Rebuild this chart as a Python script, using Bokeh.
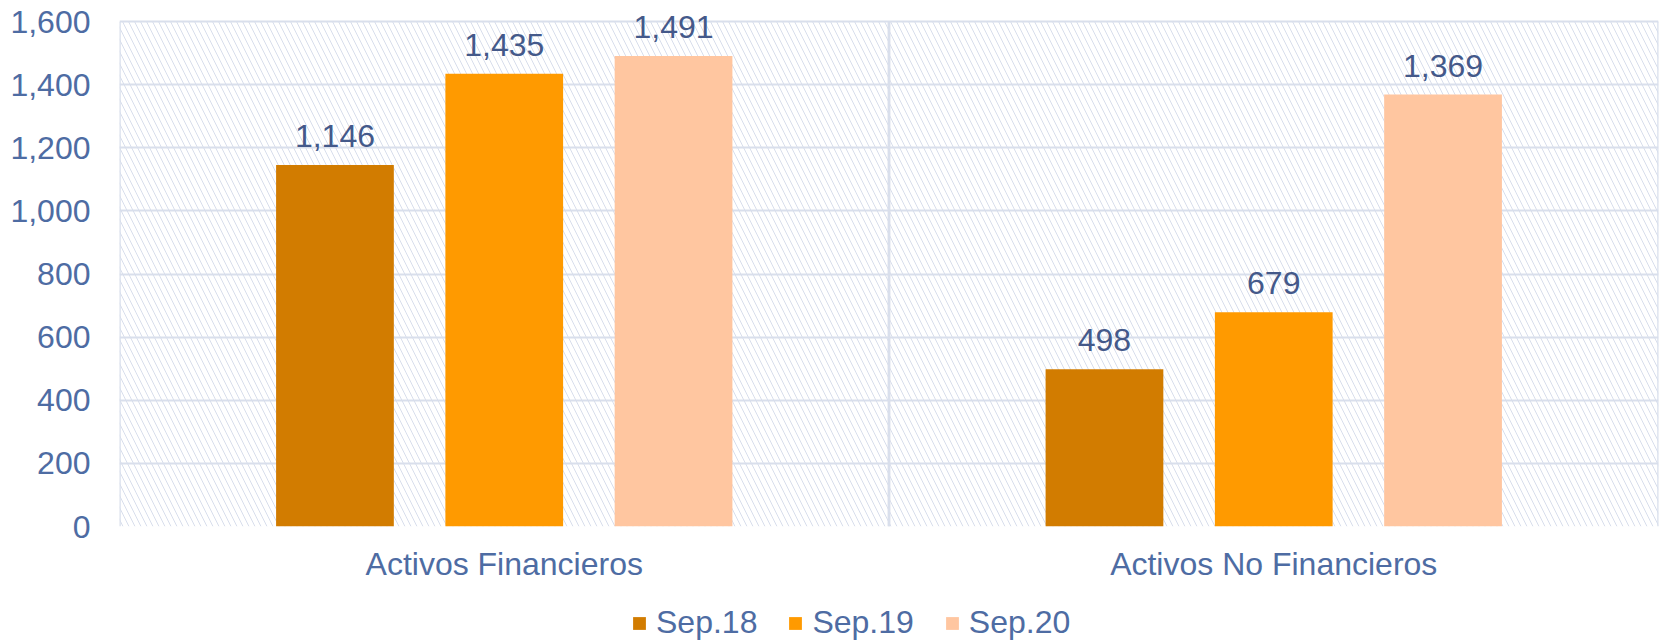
from bokeh.plotting import figure
from bokeh.layouts import column
from bokeh.models import (ColumnDataSource, FactorRange, Range1d, LabelSet, Legend, LegendItem,
                          BoxAnnotation, SingleIntervalTicker, NumeralTickFormatter)
from bokeh.core.properties import value
from bokeh.transform import dodge
from bokeh.embed import file_html
from bokeh.resources import INLINE

categories = ["Activos Financieros", "Activos No Financieros"]
series = ["Sep.18", "Sep.19", "Sep.20"]
sep18 = [1146, 498]
sep19 = [1435, 679]
sep20 = [1491, 1369]
colors = ["#D27C00", "#FF9A00", "#FFC6A0"]

FONT = "Liberation Sans"
TICK_COLOR = "#4E6CA3"
VAL_COLOR = "#44598A"
GRID = "#D9DFEC"

Y_MAX = 1600
TOP_PAD = 67  # headroom above the 1,600 line so value labels are not clipped

p = figure(width=1665, height=604, x_range=FactorRange(factors=categories, range_padding=0),
           y_range=Range1d(0, Y_MAX + TOP_PAD), output_backend="svg", toolbar_location=None,
           min_border_left=119, min_border_right=7, min_border_top=0, min_border_bottom=78)

p.outline_line_color = None
p.background_fill_color = "white"

# hatched plot area
p.add_layout(BoxAnnotation(left=0, right=len(categories), bottom=0, top=Y_MAX,
                           fill_alpha=0, line_alpha=0,
                           hatch_pattern="\\", hatch_color="#D8DEEC",
                           hatch_scale=12, hatch_weight=1, level="underlay"))

p.xgrid.grid_line_color = None
p.ygrid.grid_line_color = GRID
p.ygrid.grid_line_width = 2

src = ColumnDataSource(dict(cat=categories, s18=sep18, s19=sep19, s20=sep20,
                            l18=[f"{v:,}" for v in sep18],
                            l19=[f"{v:,}" for v in sep19],
                            l20=[f"{v:,}" for v in sep20]))

# vertical borders of every category cell (outer border and separator)
for edge in (-0.5, 0.5):
    p.segment(x0=dodge("cat", edge, range=p.x_range), x1=dodge("cat", edge, range=p.x_range),
              y0=0, y1=Y_MAX, source=src, line_color=GRID, line_width=2.5)

p.yaxis.ticker = SingleIntervalTicker(interval=200)
p.yaxis.formatter = NumeralTickFormatter(format="0,0")
for ax in (p.xaxis[0], p.yaxis[0]):
    ax.axis_line_color = None
    ax.major_tick_line_color = None
    ax.minor_tick_line_color = None
    ax.major_tick_out = 0
    ax.major_tick_in = 0
    ax.major_label_text_font = FONT
    ax.major_label_text_font_size = "32px"
    ax.major_label_text_color = TICK_COLOR
p.yaxis.major_label_standoff = 25
p.xaxis.major_label_standoff = 19

offsets = [-0.22, 0.0, 0.22]
keys = [("s18", "l18"), ("s19", "l19"), ("s20", "l20")]
for (vk, lk), off, col in zip(keys, offsets, colors):
    p.vbar(x=dodge("cat", off, range=p.x_range), top=vk, width=0.153, source=src,
           fill_color=col, line_color=None)
    p.add_layout(LabelSet(x=dodge("cat", off, range=p.x_range), y=vk, text=lk, source=src,
                          text_align="center", text_baseline="alphabetic", y_offset=18,
                          text_font=value(FONT), text_font_size=value("32px"),
                          text_color=VAL_COLOR))

# legend strip (centred on the whole chart, like the original)
lg = figure(width=1665, height=37, x_range=FactorRange(factors=categories),
            y_range=Range1d(-2, -1), output_backend="svg", toolbar_location=None,
            x_axis_location=None, y_axis_location=None, min_border=0,
            outline_line_color=None)
lg.grid.visible = False
items = []
for vk, col, name in zip(["s18", "s19", "s20"], colors, series):
    # hidden copies of the series: only their legend swatches show
    r = lg.vbar(x="cat", top=vk, bottom=vk, width=0.1, source=src, fill_color=col,
                line_color=None, visible=False)
    items.append(LegendItem(label=name, renderers=[r]))
legend = Legend(items=items, orientation="horizontal", location=(512, 0),
                label_text_font=FONT, label_text_font_size="32px", label_text_color=TICK_COLOR,
                glyph_width=16, glyph_height=16, label_standoff=9, spacing=30,
                padding=0, margin=0, border_line_color=None, background_fill_alpha=0,
                inactive_fill_alpha=0)
lg.add_layout(legend, "center")

open("out.html", "w").write(file_html(column(p, lg, spacing=0), INLINE))
